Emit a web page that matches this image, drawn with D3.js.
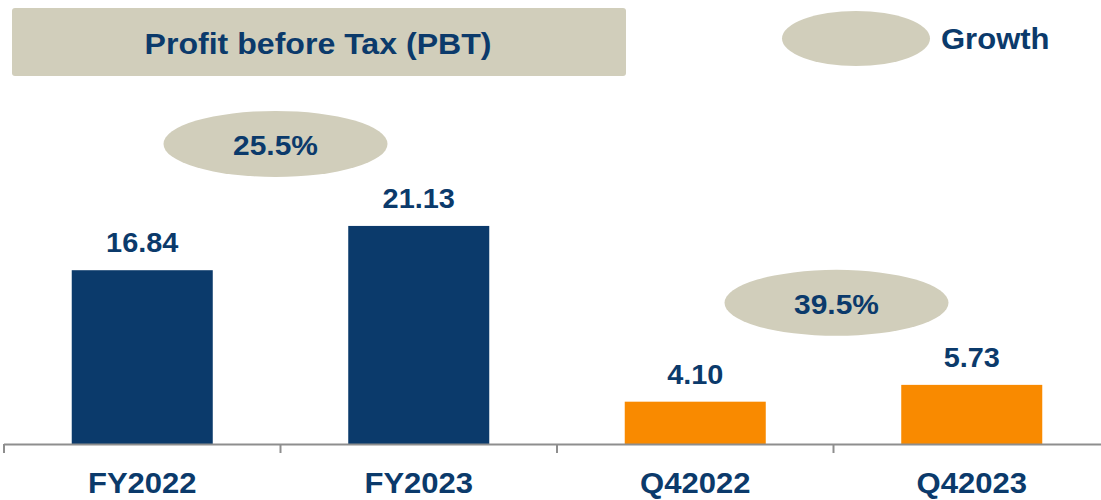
<!DOCTYPE html>
<html>
<head>
<meta charset="utf-8">
<script src="https://cdn.jsdelivr.net/npm/d3@7"></script>
<style>
  body { margin: 0; background: #fff; }
  svg text { font-family: Arial, "Liberation Sans", sans-serif; font-weight: 700; }
</style>
</head>
<body>
<div id="chart"></div>
<script>
// data
var categories = ['FY2022', 'FY2023', 'Q42022', 'Q42023'];
var pbtValues = [16.84, 21.13, 4.10, 5.73];
var valueLabels = ['16.84', '21.13', '4.10', '5.73'];
var growthPairs = [['FY2022', 'FY2023'], ['Q42022', 'Q42023']];
var growthLabels = ['25.5%', '39.5%'];

var navy = '#0B3A6B';
var orange = '#F98A00';
var beige = '#D1CEBB';
var barColors = [navy, navy, orange, orange];

var width = 1101, height = 500;
var baseY = 444;
var stretch = 1.07; // text in the original is a bit wide

var svg = d3.select('#chart').append('svg')
	.attr('width', width)
	.attr('height', height);

var x = d3.scaleBand()
	.domain(categories)
	.range([4, 1110])
	.padding(0);

var y = d3.scaleLinear()
	.domain([0, 25])
	.range([baseY, 186]);

var barW = x.bandwidth() * 0.51;

//places text at (tx, ty) with a slight horizontal stretch
function wideText(sel, tx, ty) {
	return sel.attr('transform', function(d, i) {
		var px = typeof tx === 'function' ? tx(d, i) : tx;
		var py = typeof ty === 'function' ? ty(d, i) : ty;
		return 'translate(' + px + ',' + py + ') scale(' + stretch + ',1)';
	});
}

//Title box
svg.append('rect')
	.attr('x', 12)
	.attr('y', 8)
	.attr('width', 614)
	.attr('height', 68)
	.attr('rx', 3)
	.style('fill', beige);

wideText(svg.append('text'), 318, 54)
	.attr('text-anchor', 'middle')
	.attr('font-size', '30px')
	.attr('fill', navy)
	.text('Profit before Tax (PBT)');

//Legend
svg.append('ellipse')
	.attr('cx', 856)
	.attr('cy', 38.5)
	.attr('rx', 74)
	.attr('ry', 27.5)
	.style('fill', beige);

wideText(svg.append('text'), 941, 49)
	.attr('font-size', '29px')
	.attr('fill', navy)
	.text('Growth');

//Bars
svg.append('g').selectAll('rect')
	.data(pbtValues)
	.enter()
	.append('rect')
	.attr('x', function(d, i) { return x(categories[i]) + (x.bandwidth() - barW) / 2; })
	.attr('y', function(d) { return y(d); })
	.attr('width', barW)
	.attr('height', function(d) { return baseY - y(d); })
	.style('fill', function(d, i) { return barColors[i]; });

//Value labels
wideText(svg.append('g').selectAll('text')
	.data(pbtValues)
	.enter()
	.append('text'),
	function(d, i) { return x(categories[i]) + x.bandwidth() / 2; },
	function(d) { return y(d) - 18; })
	.attr('text-anchor', 'middle')
	.attr('font-size', '27px')
	.attr('fill', navy)
	.text(function(d, i) { return valueLabels[i]; });

//Axis line + ticks
var axisG = svg.append('g');
axisG.append('line')
	.attr('x1', 4)
	.attr('x2', width)
	.attr('y1', baseY + 0.5)
	.attr('y2', baseY + 0.5)
	.attr('stroke', '#8E8E8E')
	.attr('stroke-width', 2);

var tickXs = categories.map(function(c) { return x(c); }).concat([x.range()[1]]);
axisG.selectAll('line.tick')
	.data(tickXs)
	.enter()
	.append('line')
	.attr('class', 'tick')
	.attr('x1', function(d) { return d; })
	.attr('x2', function(d) { return d; })
	.attr('y1', baseY)
	.attr('y2', baseY + 9)
	.attr('stroke', '#8E8E8E')
	.attr('stroke-width', 2);

wideText(axisG.selectAll('text')
	.data(categories)
	.enter()
	.append('text'),
	function(d) { return x(d) + x.bandwidth() / 2; },
	493)
	.attr('text-anchor', 'middle')
	.attr('font-size', '29px')
	.attr('fill', navy)
	.text(function(d) { return d; });

//Growth bubbles
var bubbleShift = [-5, 3];
growthPairs.forEach(function(p, i) {
	var cx = (x(p[0]) + x(p[1])) / 2 + x.bandwidth() / 2 + bubbleShift[i];
	var top = d3.max(p, function(c) { return pbtValues[categories.indexOf(c)]; });
	var cy = y(top) - 82;
	svg.append('ellipse')
		.attr('cx', cx)
		.attr('cy', cy)
		.attr('rx', 112)
		.attr('ry', 33)
		.style('fill', beige);
	wideText(svg.append('text'), cx, cy + 11)
		.attr('text-anchor', 'middle')
		.attr('font-size', '28px')
		.attr('fill', navy)
		.text(growthLabels[i]);
});
</script>
</body>
</html>
